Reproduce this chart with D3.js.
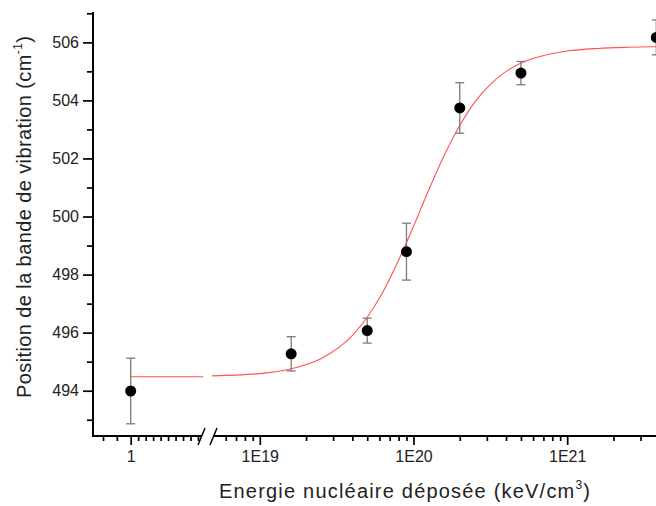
<!DOCTYPE html>
<html><head><meta charset="utf-8">
<script src="https://cdn.jsdelivr.net/npm/d3@7"></script>
<style>body{margin:0;background:#fff}svg{display:block;font-family:Arial,"Liberation Sans",sans-serif}</style>
</head><body><svg id="c" width="656" height="506"></svg>
<script>
// ---- data ----
const energies  = [1, 1.6e19, 5e19, 9e19, 2e20, 5e20, 3.8e21];
const positions = [493.99, 495.27, 496.07, 498.79, 503.74, 504.94, 506.17];
const errors    = [1.13, 0.59, 0.43, 0.98, 0.87, 0.40, 0.60];
// fitted curve
const fitEnergyLow   = [1, 5e9];
const fitPositionLow = [494.48, 494.48];
const fitExponent = [18.69, 19.0, 19.2, 19.4, 19.6, 19.7, 19.8, 19.9, 20.0, 20.1, 20.2, 20.3, 20.4, 20.5, 20.6, 20.7, 20.8, 21.0, 21.2, 21.4, 21.6, 21.8];
const fitPosition = [494.51, 494.59, 494.75, 495.11, 495.89, 496.54, 497.39, 498.46, 499.66, 500.92, 502.11, 503.13, 503.95, 504.55, 504.99, 505.29, 505.48, 505.70, 505.79, 505.83, 505.85, 505.86];
// ticks
const yMajorTicks = [494, 496, 498, 500, 502, 504, 506];
const yMinorTicks = [493, 495, 497, 499, 501, 503, 505, 507];
const xLowTicks   = [0.01, 0.1, 1, 10, 100, 1e3, 1e4, 1e5, 1e6, 1e7, 1e8, 1e9];
const xLowLabels  = {1: "1"};
const xHighMajor  = [1e19, 1e20, 1e21];
const xHighLabels = ["1E19", "1E20", "1E21"];
const xTitle = "Energie nucléaire déposée (keV/cm";
const yTitle = "Position de la bande de vibration (cm";

// ---- layout ----
const svg = d3.select("#c");
const axisY = 436, axisTop = 13, axisX = 93;
const seg1End = 201, seg2Start = 214, plotRight = 656;

const y = d3.scaleLinear().domain([492.44, 507]).range([axisY, 13.3]);
const x1 = d3.scaleLog().domain([0.01, 1, 1e9]).range([103, 130.7, 198]);
const x2 = d3.scaleLog().domain([1e19, 1e21]).range([259.8, 567.2]);
const xOf = v => v < 1e12 ? x1(v) : x2(v);

// ---- fit curve ----
const line = d3.line().x(d => d[0]).y(d => d[1]).curve(d3.curveMonotoneX);
svg.append("path")
  .attr("d", line(fitEnergyLow.map((e, i) => [x1(e), y(fitPositionLow[i])])))
  .attr("fill", "none").attr("stroke", "#ff5252").attr("stroke-width", 1.1);
svg.append("path")
  .attr("d", line(fitExponent.map((u, i) => [x2(Math.pow(10, u)), y(fitPosition[i])])))
  .attr("fill", "none").attr("stroke", "#ff5252").attr("stroke-width", 1.1);

// ---- axes ----
const tickStyle = g => {
  g.select(".domain").remove();
  g.selectAll("line").attr("stroke", "#000").attr("stroke-width", 1.7);
  g.selectAll("text").attr("font-size", 16).attr("fill", "#222").attr("font-family", "Arial, 'Liberation Sans', sans-serif");
};
// Y
svg.append("g").attr("transform", `translate(${axisX},0)`)
  .call(d3.axisLeft(y).tickValues(yMinorTicks).tickSize(6).tickFormat("")).call(tickStyle);
svg.append("g").attr("transform", `translate(${axisX},0)`)
  .call(d3.axisLeft(y).tickValues(yMajorTicks).tickSize(10).tickPadding(4).tickFormat(d3.format("d"))).call(tickStyle);
// X low segment
svg.append("g").attr("transform", `translate(0,${axisY})`)
  .call(d3.axisBottom(x1).tickValues(xLowTicks.filter(v => v !== 1)).tickSize(5).tickFormat("")).call(tickStyle);
svg.append("g").attr("transform", `translate(0,${axisY})`)
  .call(d3.axisBottom(x1).tickValues([1]).tickSize(9).tickPadding(6).tickFormat(d => xLowLabels[d])).call(tickStyle);
// X high segment
const x2View = x2.copy().domain([x2.invert(seg2Start), x2.invert(plotRight)]).range([seg2Start, plotRight]);
const xHighMinor = x2View.ticks().filter(v => !xHighMajor.includes(v) && x2(v) > seg2Start + 2);
svg.append("g").attr("transform", `translate(0,${axisY})`)
  .call(d3.axisBottom(x2).tickValues(xHighMinor).tickSize(5).tickFormat("")).call(tickStyle);
svg.append("g").attr("transform", `translate(0,${axisY})`)
  .call(d3.axisBottom(x2).tickValues(xHighMajor).tickSize(9).tickPadding(6)
    .tickFormat((d, i) => xHighLabels[i])).call(tickStyle);

// axis lines
const axes = svg.append("g").attr("stroke", "#000").attr("stroke-width", 2).attr("stroke-linecap", "square");
axes.append("line").attr("x1", axisX).attr("x2", axisX).attr("y1", axisTop).attr("y2", axisY);
axes.append("line").attr("x1", axisX).attr("x2", seg1End).attr("y1", axisY).attr("y2", axisY);
axes.append("line").attr("x1", seg2Start).attr("x2", plotRight).attr("y1", axisY).attr("y2", axisY);
// break marks
const br = svg.append("g").attr("stroke", "#000").attr("stroke-width", 1.5);
[seg1End - 3, seg2Start - 4].forEach(bx => {
  br.append("line").attr("x1", bx).attr("y1", axisY + 9).attr("x2", bx + 7).attr("y2", axisY - 8);
});

// ---- error bars + points ----
const pts = energies.map((e, i) => ({x: xOf(e), y: positions[i], e: errors[i]}));
const eb = svg.append("g").attr("stroke", "#7a7a7a").attr("stroke-width", 1.3);
pts.forEach(p => {
  const yt = y(p.y + p.e), yb = y(p.y - p.e);
  eb.append("line").attr("x1", p.x).attr("x2", p.x).attr("y1", yt).attr("y2", yb);
  eb.append("line").attr("x1", p.x - 4.5).attr("x2", p.x + 4.5).attr("y1", yt).attr("y2", yt);
  eb.append("line").attr("x1", p.x - 4.5).attr("x2", p.x + 4.5).attr("y1", yb).attr("y2", yb);
});
svg.append("g").selectAll("circle").data(pts).join("circle")
  .attr("cx", d => d.x).attr("cy", d => y(d.y)).attr("r", 5.5).attr("fill", "#000");

// ---- titles ----
const xt = svg.append("text").attr("x", 404.5).attr("y", 498).attr("text-anchor", "middle")
  .attr("font-size", 20).attr("fill", "#222").attr("textLength", 371).attr("lengthAdjust", "spacing");
xt.append("tspan").text(xTitle);
xt.append("tspan").attr("dy", -9).attr("font-size", 12).text("3");
xt.append("tspan").attr("dy", 9).text(")");

const yt = svg.append("text").attr("transform", "translate(31,217) rotate(-90)").attr("text-anchor", "middle")
  .attr("font-size", 20).attr("fill", "#222").attr("textLength", 362).attr("lengthAdjust", "spacing");
yt.append("tspan").text(yTitle);
yt.append("tspan").attr("dy", -9).attr("font-size", 12).text("-1");
yt.append("tspan").attr("dy", 9).text(")");
</script></body></html>
